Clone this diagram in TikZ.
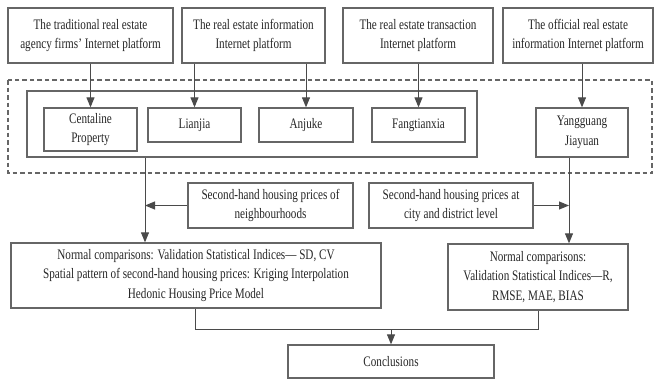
\documentclass[tikz,border=0pt]{standalone}
\usepackage{fontspec}
\setmainfont{Liberation Serif}[FakeStretch=0.77]
\usetikzlibrary{arrows.meta}
\definecolor{ln}{HTML}{4a4a4a}
\definecolor{bx}{HTML}{666666}
\definecolor{tx}{HTML}{262626}
\tikzset{
  box/.style={draw=bx, line width=1.3pt, fill=white, align=center, text=tx, inner sep=0pt,
    font=\fontsize{14.5}{19.5}\selectfont},
  link/.style={draw=ln, line width=1pt},
  arr/.style={link, -{Triangle[length=10pt,width=8pt]}},
  dashbox/.style={draw=bx, line width=1.2pt, dash pattern=on 4.5pt off 3pt},
}
\begin{document}
\begin{tikzpicture}[x=1pt,y=-1pt]
\useasboundingbox (0,0) rectangle (657,380);
% dashed region
\draw[dashbox] (8,80) rectangle (652,173);
% inner rectangle
\node[box, minimum width=450pt, minimum height=66pt] (inner) at (252,124) {};
% top boxes
\node[box, minimum width=165pt, minimum height=55pt] (t1) at (90.5,35.5) {The traditional real estate\\agency firms' Internet platform};
\node[box, minimum width=143pt, minimum height=55pt] (t2) at (253.5,35.5) {The real estate information\\Internet platform};
\node[box, minimum width=150pt, minimum height=55pt] (t3) at (418,35.5) {The real estate transaction\\Internet platform};
\node[box, minimum width=150pt, minimum height=55pt] (t4) at (578,35.5) {The official real estate\\information Internet platform};
% platform boxes
\node[box, minimum width=93pt, minimum height=43pt] (cent) at (90.5,129.5) {Centaline\\Property};
\node[box, minimum width=93pt, minimum height=34pt] (lian) at (194.5,125) {Lianjia};
\node[box, minimum width=94pt, minimum height=34pt] (anju) at (306,125) {Anjuke};
\node[box, minimum width=93pt, minimum height=34pt] (fang) at (418.5,125) {Fangtianxia};
\node[box, minimum width=92pt, minimum height=49pt] (yang) at (582,132.5) {Yangguang\\Jiayuan};
% price boxes
\node[box, minimum width=165pt, minimum height=45pt] (nb) at (270.5,205.5) {Second-hand housing prices of\\neighbourhoods};
\node[box, minimum width=164pt, minimum height=45pt] (city) at (451,205.5) {Second-hand housing prices at\\city and district level};
% main boxes
\node[box, minimum width=370pt, minimum height=65pt] (lm) at (196,275.5) {Normal comparisons: Validation Statistical Indices--- SD, CV\\Spatial pattern of second-hand housing prices: Kriging Interpolation\\Hedonic Housing Price Model};
\node[box, minimum width=180pt, minimum height=66pt] (rm) at (538,277) {Normal comparisons:\\Validation Statistical Indices---R,\\RMSE, MAE, BIAS};
\node[box, minimum width=206pt, minimum height=33pt] (concl) at (391,361.5) {Conclusions};
% top arrows
\draw[arr] (cent.north |- t1.south) -- (cent.north);
\draw[arr] (lian.north |- t2.south) -- (lian.north);
\draw[arr] (anju.north |- t2.south) -- (anju.north);
\draw[arr] (fang.north |- t3.south) -- (fang.north);
\draw[arr] (yang.north |- t4.south) -- (yang.north);
% left flow
\coordinate (a) at (145,157);
\draw[arr] (a |- inner.south) -- (a |- lm.north);
\draw[arr] (nb.west) -- (nb.west -| a);
% right flow
\coordinate (b) at (569,157);
\draw[arr] (b |- yang.south) -- (b |- rm.north);
\draw[arr] (city.east) -- (city.east -| b);
% to conclusions
\coordinate (c) at (195,329);
\draw[link] (c |- lm.south) -- (c) -- (c -| rm.south) -- (rm.south);
\draw[arr] (concl.north |- c) -- (concl.north);
\end{tikzpicture}
\end{document}
